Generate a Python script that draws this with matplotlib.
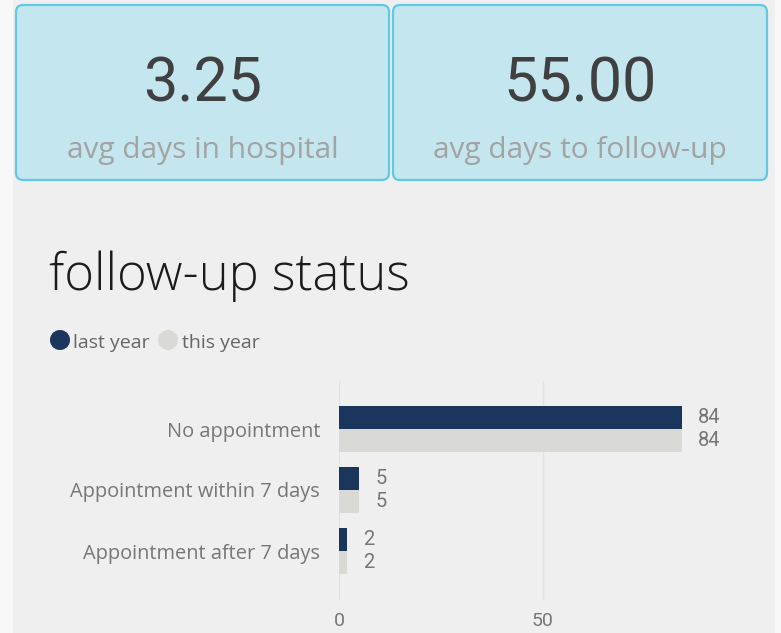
import matplotlib
matplotlib.use("Agg")
import matplotlib.pyplot as plt
from matplotlib.patches import FancyBboxPatch, Rectangle, Circle

plt.rcParams['font.family'] = ['Open Sans', 'DejaVu Sans']

# ---- data ----
kpi_values = ["3.25", "55.00"]
kpi_labels = ["avg days in hospital", "avg days to follow-up"]
categories = ["No appointment", "Appointment within 7 days", "Appointment after 7 days"]
last_year = [84, 5, 2]
this_year = [84, 5, 2]
series_names = ["last year", "this year"]
x_ticks = [0, 50]
title = "follow-up status"

W, H = 781, 633
DARK = "#1b365d"
LIGHT = "#d9d9d6"

fig = plt.figure(figsize=(W / 100, H / 100), dpi=100)
fig.patch.set_facecolor("#f8f8f8")

bg = fig.add_axes([0, 0, 1, 1])
bg.set_xlim(0, W)
bg.set_ylim(H, 0)
bg.axis("off")
bg.add_patch(Rectangle((13, 0), 762, H, facecolor="#efefef", edgecolor="none"))

# KPI cards
cards = [(16, 5, 373, 175), (393, 5, 374, 175)]
for (x, y, w, h), val, lab in zip(cards, kpi_values, kpi_labels):
    bg.add_patch(FancyBboxPatch((x, y), w, h,
                                boxstyle="round,pad=0,rounding_size=7",
                                facecolor="#c4e6ef", edgecolor="#5fc9e6", linewidth=1.6))
    cx = x + w / 2
    bg.text(cx, 102, val, ha="center", va="baseline", fontsize=44,
            family=["Roboto", "DejaVu Sans"], color="#404040")
    bg.text(cx, 158, lab, ha="center", va="baseline", fontsize=21.5, color="#a3a3a3")

# title
bg.text(49, 290, title, ha="left", va="baseline", fontsize=36.5, color="#1c1c1c",
        fontweight="light")

# legend
bg.add_patch(Circle((60, 340), 10, facecolor=DARK, edgecolor="none"))
bg.text(73, 348, series_names[0], ha="left", va="baseline", fontsize=14, color="#666666")
bg.add_patch(Circle((168, 340), 10, facecolor=LIGHT, edgecolor="none"))
bg.text(182, 348, series_names[1], ha="left", va="baseline", fontsize=14, color="#666666")

# bar chart
left, right, top, bottom = 339, 740, 381, 600
ax = fig.add_axes([left / W, 1 - bottom / H, (right - left) / W, (bottom - top) / H])
ax.patch.set_alpha(0)
n = len(categories)
bh = 23 / 61
ys = list(range(n))
ax.barh([y - bh / 2 for y in ys], last_year, height=bh, color=DARK, zorder=3)
ax.barh([y + bh / 2 for y in ys], this_year, height=bh, color=LIGHT, zorder=3)
for y, a, b in zip(ys, last_year, this_year):
    ax.annotate(str(a), (a, y - bh / 2), xytext=(11.5, 0), textcoords="offset points",
                ha="left", va="center", fontsize=14.5, color="#767676",
                family=["Roboto", "DejaVu Sans"])
    ax.annotate(str(b), (b, y + bh / 2), xytext=(11.5, 0), textcoords="offset points",
                ha="left", va="center", fontsize=14.5, color="#767676",
                family=["Roboto", "DejaVu Sans"])

ax.set_xlim(0, (right - left) / 4.08)
ax.set_ylim(2 + (bottom - 551) / 61, -(429 - top) / 61)
ax.set_yticks(ys)
ax.set_yticklabels(categories, fontsize=14.4, color="#777777")
ax.set_xticks(x_ticks)
ax.set_xticklabels([str(t) for t in x_ticks], fontsize=14, color="#777777",
                   family=["Roboto", "DejaVu Sans"])
ax.tick_params(axis="y", length=0, pad=13.5)
ax.tick_params(axis="x", length=0, pad=9)
ax.grid(axis="x", color="#e2e2e2", linewidth=1, zorder=0)
for s in ax.spines.values():
    s.set_visible(False)

fig.savefig("out.png", dpi=100, facecolor=fig.get_facecolor())
